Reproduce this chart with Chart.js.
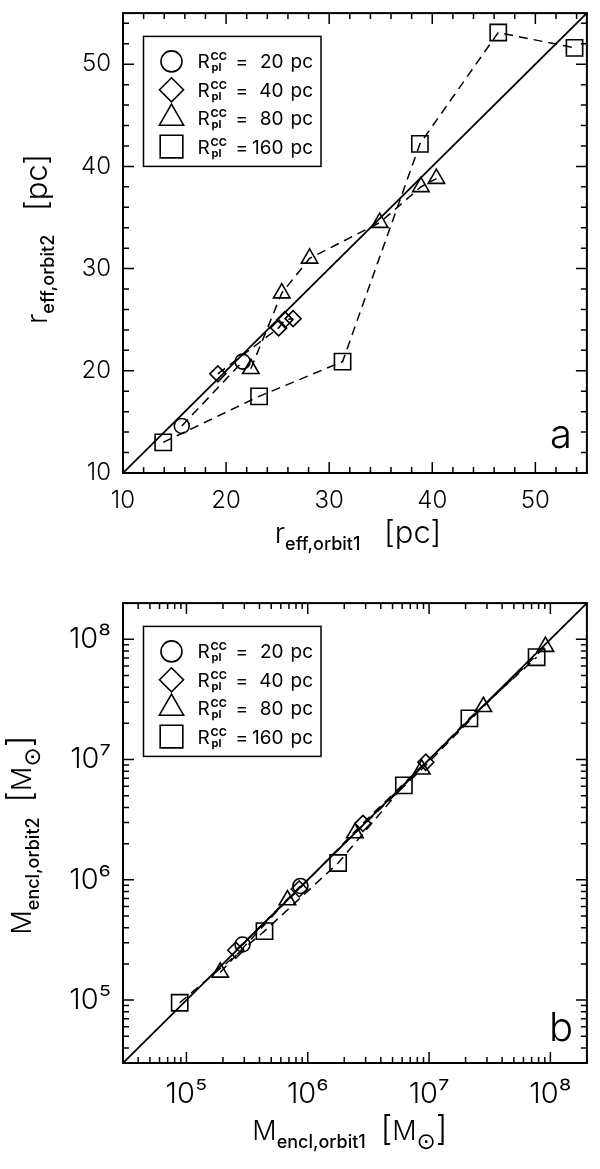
<!DOCTYPE html>
<html>
<head>
<meta charset="utf-8">
<script src="https://cdn.jsdelivr.net/npm/chart.js@4/dist/chart.umd.min.js"></script>
<style>
  body { margin: 0; background: #fff; width: 600px; height: 1169px; overflow: hidden; position: relative; }
  canvas { position: absolute; left: 0; }
</style>
</head>
<body>
<canvas id="chartA" width="600" height="590" style="top:0px"></canvas>
<canvas id="chartB" width="600" height="579" style="top:590px"></canvas>
<script>
// panel a : effective radius, orbit 1 vs orbit 2 [pc]
const rEff1_20 = [15.7, 21.6];
const rEff2_20 = [14.6, 20.9];
const rEff1_40 = [19.2, 25.1, 25.7, 26.5];
const rEff2_40 = [19.7, 24.2, 25.0, 25.1];
const rEff1_80 = [22.4, 25.4, 28.1, 34.9, 38.9, 40.4];
const rEff2_80 = [20.2, 27.6, 31.0, 34.5, 38.0, 38.8];
const rEff1_160 = [13.9, 23.2, 31.3, 38.8, 46.4, 53.8];
const rEff2_160 = [13.0, 17.5, 20.9, 42.2, 53.1, 51.6];

// panel b : enclosed mass, orbit 1 vs orbit 2 [Msun]
const mEncl1_20 = [2.9e5, 8.7e5];
const mEncl2_20 = [2.9e5, 8.9e5];
const mEncl1_40 = [2.55e5, 8.5e5, 2.85e6, 9.4e6];
const mEncl2_40 = [2.6e5, 8.4e5, 2.95e6, 9.5e6];
const mEncl1_80 = [1.9e5, 6.8e5, 2.45e6, 8.7e6, 2.8e7, 9.1e7];
const mEncl2_80 = [1.7e5, 6.8e5, 2.45e6, 8.3e6, 2.75e7, 8.7e7];
const mEncl1_160 = [8.8e4, 4.4e5, 1.78e6, 6.2e6, 2.15e7, 7.7e7];
const mEncl2_160 = [9.5e4, 3.75e5, 1.38e6, 6.1e6, 2.2e7, 7.1e7];

// one-to-one lines and axes
const oneToOneA = [10, 55];
const oneToOneB = [3e4, 2e8];
const ticksA = [10, 20, 30, 40, 50];
const ticksB = [1e5, 1e6, 1e7, 1e8];
const tickLabelsB = ['10\u2075', '10\u2076', '10\u2077', '10\u2078'];
const legendValues = ['20', '40', '80', '160'];

const FAMILY = "Inter, 'DejaVu Sans', sans-serif";
const markers = [
  { style: 'circle', r: 7.5, legendR: 10.5 },
  { style: 'rectRot', r: 8, legendR: 12 },
  { style: 'triangle', r: 9.5, legendR: 14 },
  { style: 'rect', r: 11.5, legendR: 16 }
];

function pts(xs, ys) {
  return xs.map((x, i) => ({ x: x, y: ys[i] }));
}

function series(xs, ys, i) {
  return {
    data: pts(xs, ys),
    showLine: true,
    borderColor: '#000',
    borderWidth: 1.5,
    borderDash: [9, 6],
    pointStyle: markers[i].style,
    pointRadius: markers[i].r,
    pointBorderWidth: 1.6,
    pointBorderColor: '#000',
    pointBackgroundColor: 'rgba(0,0,0,0)',
    tension: 0
  };
}

function diagonal(lims) {
  return { data: pts(lims, lims), showLine: true, borderColor: '#000', borderWidth: 1.8, pointRadius: 0 };
}

// marker shapes for the legend box
function drawMarker(ctx, style, x, y, r) {
  ctx.beginPath();
  if (style === 'circle') {
    ctx.arc(x, y, r, 0, 2 * Math.PI);
  } else if (style === 'rectRot') {
    ctx.moveTo(x - r, y); ctx.lineTo(x, y - r); ctx.lineTo(x + r, y); ctx.lineTo(x, y + r); ctx.closePath();
  } else if (style === 'triangle') {
    ctx.moveTo(x, y - r); ctx.lineTo(x + r * 0.866, y + r / 2); ctx.lineTo(x - r * 0.866, y + r / 2); ctx.closePath();
  } else {
    const h = r * Math.SQRT1_2;
    ctx.rect(x - h, y - h, 2 * h, 2 * h);
  }
  ctx.stroke();
}

// text with sub/superscript pieces: [text, size, weight, dy]
function drawRich(ctx, parts, cx, baseY) {
  let total = 0;
  parts.forEach(p => { ctx.font = (p[2] || 300) + ' ' + p[1] + 'px ' + FAMILY; p.w = ctx.measureText(p[0]).width; total += p.w; });
  let x = cx - total / 2;
  ctx.textAlign = 'left';
  ctx.textBaseline = 'alphabetic';
  parts.forEach(p => {
    ctx.font = (p[2] || 300) + ' ' + p[1] + 'px ' + FAMILY;
    ctx.fillText(p[0], x, baseY + (p[3] || 0));
    x += p.w;
  });
}

function makeDecor(cfg) {
  return {
    id: 'decor',
    afterDraw(chart) {
      const { ctx, chartArea: a, scales: { x, y } } = chart;
      ctx.save();
      ctx.strokeStyle = '#000';
      ctx.fillStyle = '#000';

      // tick marks on all four sides, pointing inwards
      ctx.lineWidth = 1.5;
      ctx.beginPath();
      const tickX = (v, len) => { const p = x.getPixelForValue(v); ctx.moveTo(p, a.bottom); ctx.lineTo(p, a.bottom - len); ctx.moveTo(p, a.top); ctx.lineTo(p, a.top + len); };
      const tickY = (v, len) => { const p = y.getPixelForValue(v); ctx.moveTo(a.left, p); ctx.lineTo(a.left + len, p); ctx.moveTo(a.right, p); ctx.lineTo(a.right - len, p); };
      cfg.minor.forEach(v => { tickX(v, 6); tickY(v, 6); });
      cfg.major.forEach(v => { tickX(v, 11); tickY(v, 11); });
      ctx.stroke();

      // frame
      ctx.lineWidth = 2;
      ctx.strokeRect(a.left, a.top, a.right - a.left, a.bottom - a.top);

      // legend
      const lx = a.left + 20.5, ly = a.top + 23.3;
      ctx.lineWidth = 1.5;
      ctx.strokeRect(lx, ly, 177.5, 130);
      markers.forEach((m, i) => {
        const cy = ly + 25 + i * 28.4;
        ctx.lineWidth = 1.6;
        drawMarker(ctx, m.style, lx + 28, cy, m.legendR);
        ctx.textBaseline = 'alphabetic';
        ctx.textAlign = 'left';
        ctx.font = '400 19px ' + FAMILY;
        ctx.fillText('R', lx + 54, cy + 7);
        ctx.font = 'bold 11px ' + FAMILY;
        ctx.fillText('CC', lx + 67, cy - 1);
        ctx.fillText('pl', lx + 68, cy + 10);
        ctx.font = '400 19px ' + FAMILY;
        ctx.fillText('=', lx + 92, cy + 7);
        ctx.textAlign = 'right';
        ctx.fillText(legendValues[i], lx + 140, cy + 7);
        ctx.textAlign = 'left';
        ctx.fillText('pc', lx + 147, cy + 7);
      });

      // axis titles
      drawRich(ctx, cfg.xTitle, cfg.xTitlePos[0], cfg.xTitlePos[1]);
      ctx.save();
      ctx.translate(cfg.yTitlePos[0], cfg.yTitlePos[1]);
      ctx.rotate(-Math.PI / 2);
      drawRich(ctx, cfg.yTitle, 0, 0);
      ctx.restore();

      // panel letter
      ctx.font = '300 40px ' + FAMILY;
      ctx.textAlign = 'left';
      ctx.fillText(cfg.letter, cfg.letterPos[0], cfg.letterPos[1]);
      ctx.restore();
    }
  };
}

function axisOpts(type, lims, tickVals, labelFn, font, pad, size, horizontal) {
  return {
    type: type,
    min: lims[0],
    max: lims[1],
    grid: { display: false, drawTicks: false },
    border: { display: false },
    afterBuildTicks: s => { s.ticks = tickVals.map(v => ({ value: v })); },
    afterFit: s => {
      // fixed plot box: no extra room for overhanging labels
      if (horizontal) { s.height = size; } else { s.width = size; }
      s.paddingTop = 0; s.paddingBottom = 0; s.paddingLeft = 0; s.paddingRight = 0;
    },
    ticks: { font: font, color: '#000', padding: pad, maxRotation: 0, autoSkip: false, callback: labelFn }
  };
}

// minor tick positions
const minorA = [];
for (let v = 10; v <= 55; v += 2) minorA.push(v);
const minorB = [];
for (let d = 4; d <= 8; d++) {
  for (let m = 1; m <= 9; m++) {
    const v = m * Math.pow(10, d);
    if (v >= 3e4 && v <= 2e8) minorB.push(v);
  }
}

const fontA = { family: FAMILY, size: 24, weight: 300 };
const fontB = { family: FAMILY, size: 29, weight: 300 };

new Chart(document.getElementById('chartA'), {
  type: 'scatter',
  data: {
    datasets: [
      diagonal(oneToOneA),
      series(rEff1_20, rEff2_20, 0),
      series(rEff1_40, rEff2_40, 1),
      series(rEff1_80, rEff2_80, 2),
      series(rEff1_160, rEff2_160, 3)
    ]
  },
  options: {
    responsive: false,
    animation: false,
    devicePixelRatio: 1,
    layout: { padding: { top: 5, right: 3, left: 0, bottom: 0 } },
    plugins: { legend: { display: false }, tooltip: { enabled: false } },
    scales: {
      x: axisOpts('linear', oneToOneA, ticksA, v => String(v), fontA, 13, 117, true),
      y: axisOpts('linear', oneToOneA, ticksA, v => String(v), fontA, 12, 123, false)
    }
  },
  plugins: [makeDecor({
    major: ticksA, minor: minorA,
    xTitle: [['r', 29], ['eff,orbit1', 18, 500, 7], ['   ', 28], ['[pc]', 31]],
    xTitlePos: [358, 543],
    yTitle: [['r', 29], ['eff,orbit2', 18, 500, 7], ['   ', 28], ['[pc]', 31]],
    yTitlePos: [47, 239],
    letter: 'a', letterPos: [550, 448]
  })]
});

new Chart(document.getElementById('chartB'), {
  type: 'scatter',
  data: {
    datasets: [
      diagonal(oneToOneB),
      series(mEncl1_20, mEncl2_20, 0),
      series(mEncl1_40, mEncl2_40, 1),
      series(mEncl1_80, mEncl2_80, 2),
      series(mEncl1_160, mEncl2_160, 3)
    ]
  },
  options: {
    responsive: false,
    animation: false,
    devicePixelRatio: 1,
    layout: { padding: { top: 5, right: 3, left: 0, bottom: 0 } },
    plugins: { legend: { display: false }, tooltip: { enabled: false } },
    scales: {
      x: axisOpts('logarithmic', oneToOneB, ticksB, v => tickLabelsB[ticksB.indexOf(v)] || '', fontB, 14, 106, true),
      y: axisOpts('logarithmic', oneToOneB, ticksB, v => tickLabelsB[ticksB.indexOf(v)] || '', fontB, 12, 123, false)
    }
  },
  plugins: [makeDecor({
    major: ticksB, minor: minorB,
    xTitle: [['M', 27], ['encl,orbit1', 18, 500, 8], ['  ', 26], ['[', 34], ['M', 27], ['\u2299', 23, 400, 9], [']', 34]],
    xTitlePos: [350, 550],
    yTitle: [['M', 27], ['encl,orbit2', 18, 500, 8], ['  ', 26], ['[', 34], ['M', 27], ['\u2299', 23, 400, 9], [']', 34]],
    yTitlePos: [31, 245],
    letter: 'b', letterPos: [549, 451]
  })]
});
</script>
</body>
</html>
